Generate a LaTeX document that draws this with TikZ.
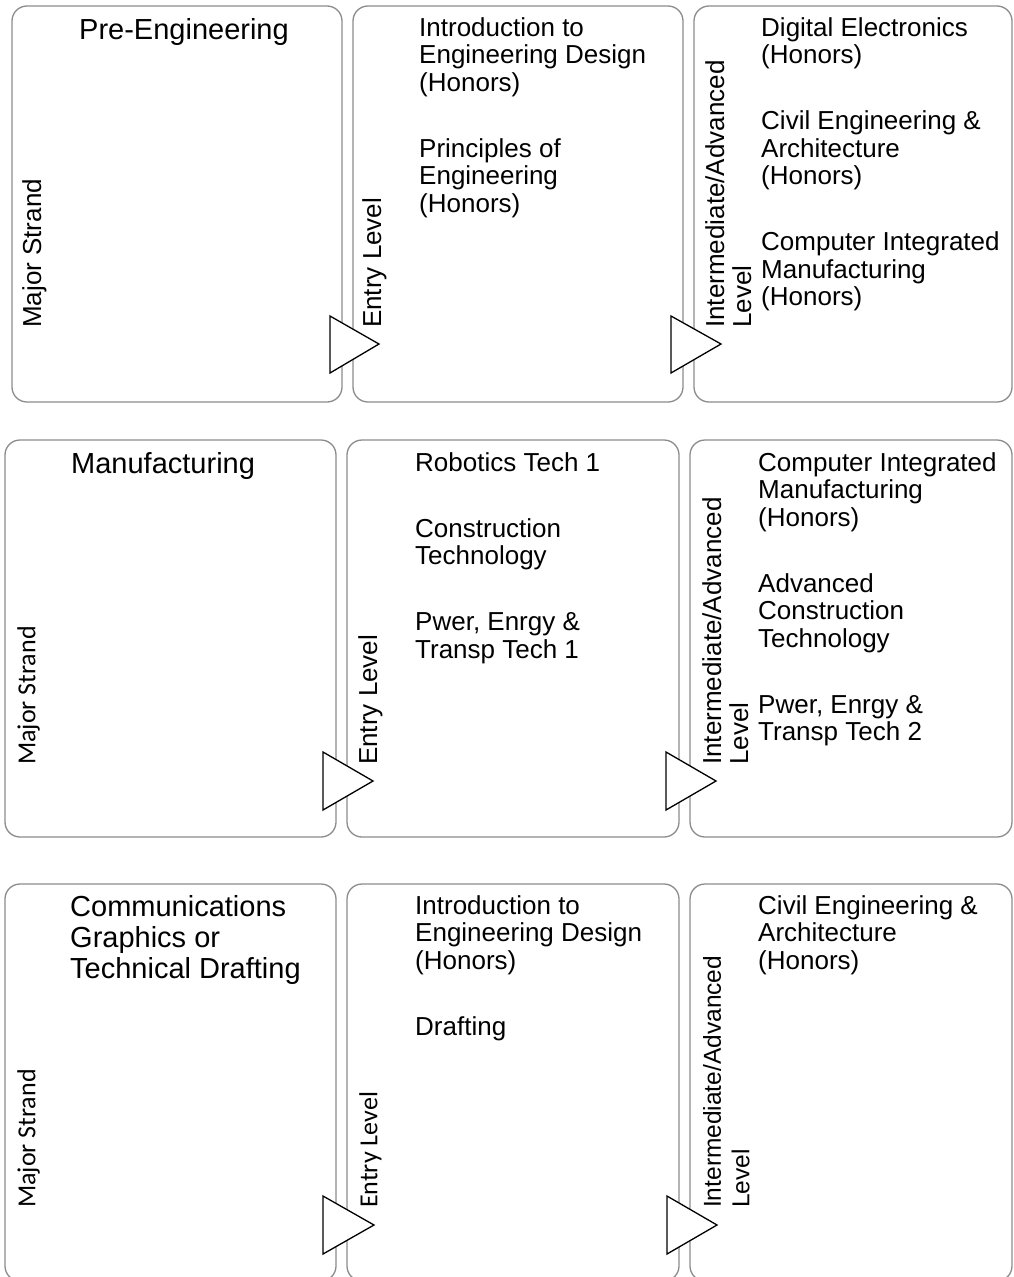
\documentclass[tikz,border=0pt]{standalone}
\usepackage{fontspec}
\setmainfont{Liberation Sans}
\newfontfamily\calibrifont{Carlito}
\usepackage{tikz}

\tikzset{
  strandbox/.style={draw={rgb,255:red,140;green,140;blue,140}, line width=1.3pt, rounded corners=15pt},
  levelmark/.style={draw=black, fill=white, line width=1.3pt, line join=miter},
  coursetext/.style={anchor=north west, inner sep=0pt, align=left, font=\fontsize{26pt}{27.5pt}\selectfont},
  headtext/.style={anchor=north west, inner sep=0pt, align=left, font=\fontsize{29pt}{31pt}\selectfont},
  sidetext/.style={anchor=north west, inner sep=0pt, align=left, rotate=90, font=\fontsize{26pt}{27pt}\selectfont},
}

\begin{document}
\begin{tikzpicture}[x=1pt,y=1pt,yscale=-1,xscale=1]
  \useasboundingbox (0,0) rectangle (1013,1277);

  %Rounded Rect: Pre-Engineering row
  \draw [strandbox] (12,6) rectangle (342,402);
  \draw [strandbox] (353,6) rectangle (683,402);
  \draw [strandbox] (694,6) rectangle (1012,402);
  %Rounded Rect: Manufacturing row
  \draw [strandbox] (5,440) rectangle (336,837);
  \draw [strandbox] (347,440) rectangle (679,837);
  \draw [strandbox] (690,440) rectangle (1012,837);
  %Rounded Rect: Drafting row
  \draw [strandbox] (5,884) rectangle (336,1281);
  \draw [strandbox] (347,884) rectangle (679,1281);
  \draw [strandbox] (690,884) rectangle (1012,1281);

  %Triangles
  \draw [levelmark] (330,316) -- (379,344) -- (330,373) -- cycle;
  \draw [levelmark] (671,316) -- (721,344) -- (671,373) -- cycle;
  \draw [levelmark] (323,752) -- (373,781) -- (323,810) -- cycle;
  \draw [levelmark] (666,752) -- (716,781) -- (666,810) -- cycle;
  \draw [levelmark] (323,1196) -- (374,1225) -- (323,1254) -- cycle;
  \draw [levelmark] (667,1196) -- (717,1225) -- (667,1254) -- cycle;

  % Text Node
  \draw (79,18) node (preHead) [headtext] {Pre-Engineering};
  % Text Node
  \draw (22,328) node (preMajor) [sidetext] {Major Strand};
  % Text Node
  \draw (362,328) node (preEntry) [sidetext] {Entry Level};
  % Text Node
  \draw (705,328) node (preUpper) [sidetext] {Intermediate/Advanced\\Level};
  % Text Node
  \draw (419,17) node (preEntryList) [coursetext] {Introduction to\\Engineering Design\\(Honors)\\[38.5pt]Principles of\\Engineering\\(Honors)};
  % Text Node
  \draw (761,17) node (preUpperList) [coursetext] {Digital Electronics\\(Honors)\\[38.5pt]Civil Engineering \&\\Architecture\\(Honors)\\[38.5pt]Computer Integrated\\Manufacturing\\(Honors)};

  % Text Node
  \draw (71,452) node (manHead) [headtext] {Manufacturing};
  % Text Node
  \draw (17,765) node (manMajor) [sidetext, font=\calibrifont\fontsize{26pt}{27pt}\selectfont] {Major Strand};
  % Text Node
  \draw (358,765) node (manEntry) [sidetext] {Entry Level};
  % Text Node
  \draw (702,765) node (manUpper) [sidetext] {Intermediate/Advanced\\Level};
  % Text Node
  \draw (415,452) node (manEntryList) [coursetext] {Robotics Tech 1\\[38.5pt]Construction\\Technology\\[38.5pt]Pwer, Enrgy \&\\Transp Tech 1};
  % Text Node
  \draw (758,452) node (manUpperList) [coursetext] {Computer Integrated\\Manufacturing\\(Honors)\\[38.5pt]Advanced\\Construction\\Technology\\[38.5pt]Pwer, Enrgy \&\\Transp Tech 2};

  % Text Node
  \draw (70,895) node (draHead) [headtext] {Communications\\Graphics or\\Technical Drafting};
  % Text Node
  \draw (17,1208) node (draMajor) [sidetext, font=\calibrifont\fontsize{26pt}{27pt}\selectfont] {Major Strand};
  % Text Node
  \draw (359,1208) node (draEntry) [sidetext, font=\calibrifont\fontsize{26pt}{27pt}\selectfont] {Entry Level};
  % Text Node
  \draw (703,1208) node (draUpper) [sidetext, font=\fontsize{24.5pt}{28.5pt}\selectfont] {Intermediate/Advanced\\Level};
  % Text Node
  \draw (415,895) node (draEntryList) [coursetext] {Introduction to\\Engineering Design\\(Honors)\\[38.5pt]Drafting};
  % Text Node
  \draw (758,895) node (draUpperList) [coursetext] {Civil Engineering \&\\Architecture\\(Honors)};

\end{tikzpicture}
\end{document}
